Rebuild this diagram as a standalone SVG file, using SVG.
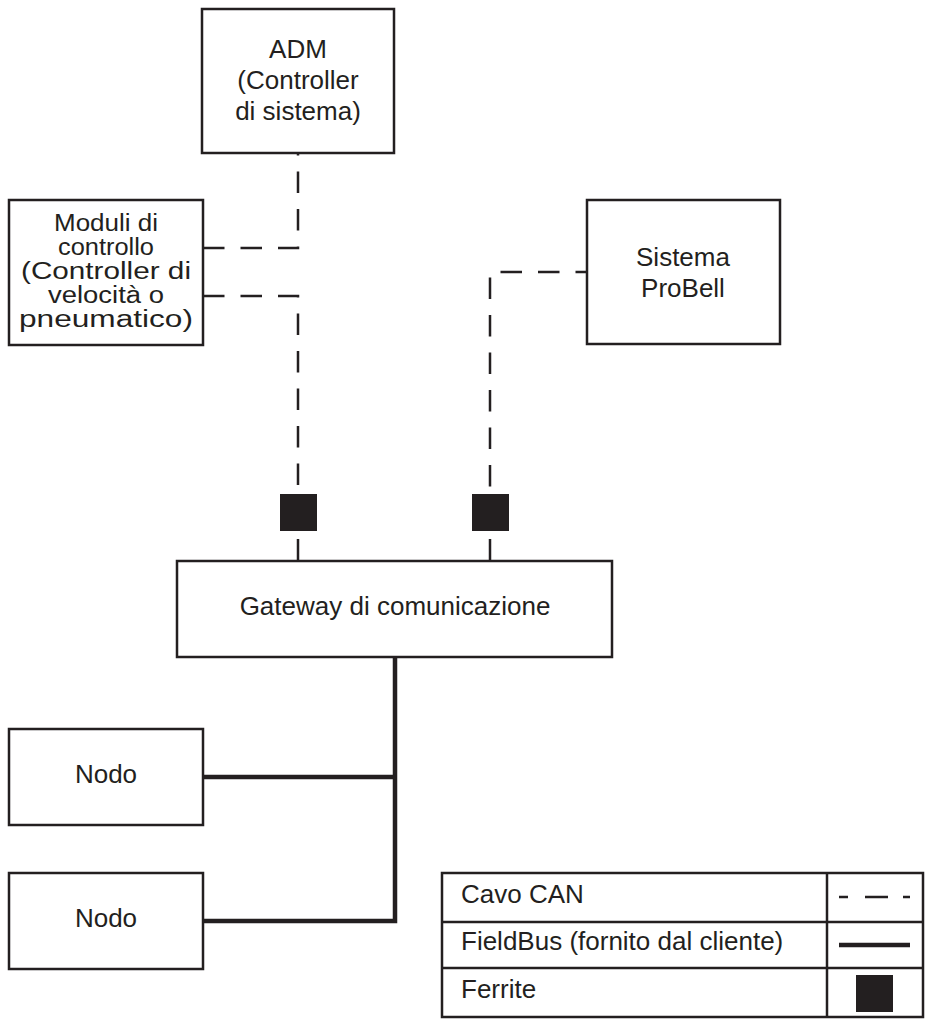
<svg xmlns="http://www.w3.org/2000/svg" width="925" height="1020" viewBox="0 0 925 1020">
<style>
  .box { fill: #ffffff; stroke: #231f20; stroke-width: 2.5; }
  .lbl { font-family: "Liberation Sans", Arial, sans-serif; font-size: 26px; fill: #231f20; text-anchor: middle; }
  .mod { font-family: "Liberation Sans", Arial, sans-serif; font-size: 23.5px; fill: #231f20; text-anchor: middle; }
  .lleft { font-family: "Liberation Sans", Arial, sans-serif; font-size: 26px; fill: #231f20; }
  .can { fill: none; stroke: #231f20; stroke-width: 2.5; stroke-dasharray: 21.5 16; }
  .solid { fill: none; stroke: #231f20; stroke-width: 2.5; }
  .bus { fill: none; stroke: #231f20; stroke-width: 4.5; }
  .ferrite { fill: #231f20; }
</style>
<rect width="925" height="1020" fill="#ffffff"/>

<g id="connectors">
  <path class="can" d="M203,248 H298 V153"/>
  <path class="can" d="M203,296 H298 V494"/>
  <line class="solid" x1="298" y1="539" x2="298" y2="561"/>
  <path class="can" style="stroke-dashoffset:10" d="M587,272 H490 V494"/>
  <line class="solid" x1="490" y1="539" x2="490" y2="561"/>
  <path class="bus" d="M395,657 V921 H203"/>
  <line class="bus" x1="203" y1="777" x2="395" y2="777"/>
  <rect class="ferrite" x="280" y="494" width="37" height="37"/>
  <rect class="ferrite" x="472" y="494" width="37" height="37"/>
</g>

<g id="adm">
  <rect class="box" x="202" y="9" width="192" height="144"/>
  <text class="lbl" x="298" y="58">ADM</text>
  <text class="lbl" x="298" y="89">(Controller</text>
  <text class="lbl" x="298" y="120">di sistema)</text>
</g>

<g id="moduli">
  <rect class="box" x="9" y="200" width="194" height="145"/>
  <text class="mod" x="106" y="231" textLength="104" lengthAdjust="spacingAndGlyphs">Moduli di</text>
  <text class="mod" x="106" y="255" textLength="96" lengthAdjust="spacingAndGlyphs">controllo</text>
  <text class="mod" x="106" y="279" textLength="170" lengthAdjust="spacingAndGlyphs">(Controller di</text>
  <text class="mod" x="106" y="303" textLength="116" lengthAdjust="spacingAndGlyphs">velocità o</text>
  <text class="mod" x="106" y="327" textLength="174" lengthAdjust="spacingAndGlyphs">pneumatico)</text>
</g>

<g id="probell">
  <rect class="box" x="587" y="200" width="193" height="144"/>
  <text class="lbl" x="683" y="266">Sistema</text>
  <text class="lbl" x="683" y="297">ProBell</text>
</g>

<g id="gateway">
  <rect class="box" x="177" y="561" width="435" height="96"/>
  <text class="lbl" x="395" y="615">Gateway di comunicazione</text>
</g>

<g id="nodo1">
  <rect class="box" x="9" y="729" width="194" height="96"/>
  <text class="lbl" x="106" y="783">Nodo</text>
</g>

<g id="nodo2">
  <rect class="box" x="9" y="873" width="194" height="96"/>
  <text class="lbl" x="106" y="927">Nodo</text>
</g>

<g id="legend">
  <rect class="box" x="442" y="873" width="481" height="144"/>
  <line class="solid" x1="827" y1="873" x2="827" y2="1017"/>
  <line class="solid" x1="442" y1="922" x2="923" y2="922"/>
  <line class="solid" x1="442" y1="968" x2="923" y2="968"/>
  <text class="lleft" x="461" y="903">Cavo CAN</text>
  <text class="lleft" x="461" y="950">FieldBus (fornito dal cliente)</text>
  <text class="lleft" x="461" y="998">Ferrite</text>
  <line class="solid" style="stroke-dasharray:9 17 23 15 7 100" x1="839" y1="897" x2="910" y2="897"/>
  <line class="bus" x1="839" y1="945" x2="910" y2="945"/>
  <rect class="ferrite" x="856" y="975" width="37" height="37"/>
</g>
</svg>
